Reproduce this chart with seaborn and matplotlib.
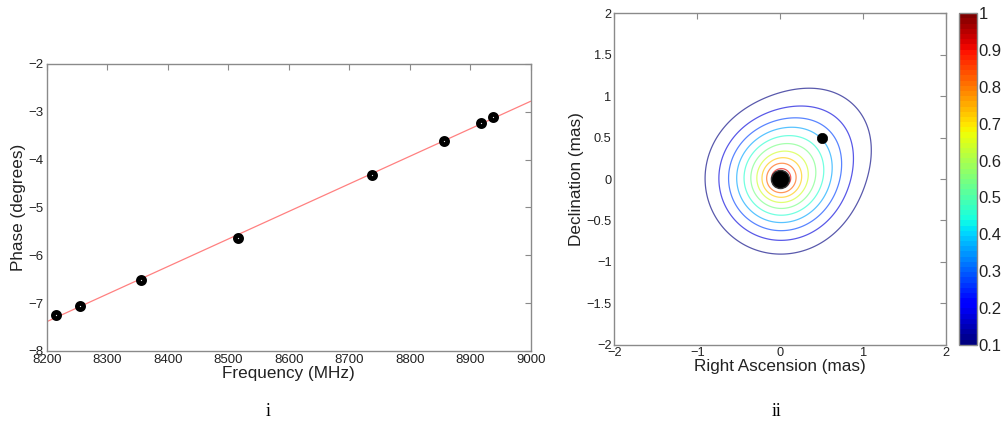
import numpy as np
import matplotlib
matplotlib.use("Agg")
import matplotlib.pyplot as plt
import matplotlib.colors as mcolors
import matplotlib.colorbar as mcolorbar
import seaborn as sns

# ---- Panel i: phase vs frequency ----
freq_mhz = [8216, 8255, 8356, 8516, 8738, 8857, 8917, 8937]
phase_deg = [-7.25, -7.05, -6.51, -5.63, -4.33, -3.60, -3.23, -3.11]
freq_ticks = [8200, 8300, 8400, 8500, 8600, 8700, 8800, 8900, 9000]
phase_ticks = [-8, -7, -6, -5, -4, -3, -2]

# ---- Panel ii: brightness model made of circular Gaussians (mas) ----
# compact core + extended core (both at the origin) + jet component
comp_ra = [0.0, 0.0, 0.5]
comp_dec = [0.0, 0.0, 0.5]
comp_flux = [0.25, 0.75, 0.16]
comp_width = [0.20, 0.63, 0.67]
n_levels = 10
ra_ticks = [-2, -1, 0, 1, 2]
ra_labels = ["\u22122", "\u22121", "0", "1", "2"]
dec_ticks = [-2, -1.5, -1, -0.5, 0, 0.5, 1, 1.5, 2]
dec_labels = ["\u22122", "\u22121.5", "\u22121", "\u22120.5", "0", "0.5", "1", "1.5", "2"]
cbar_ticks = [0.1, 0.2, 0.3, 0.4, 0.5, 0.6, 0.7, 0.8, 0.9, 1.0]
cbar_labels = ["0.1", "0.2", "0.3", "0.4", "0.5", "0.6", "0.7", "0.8", "0.9", "1"]

sns.set_style("white")
plt.rcParams["font.family"] = ["Liberation Sans", "DejaVu Sans"]

SPINE = "#8a8a8a"
TEXT = "#222222"

fig = plt.figure(figsize=(10.01, 4.33), dpi=100)


def matlab_axes(ax, size):
    for s in ax.spines.values():
        s.set_visible(True)
        s.set_color(SPINE)
        s.set_linewidth(1.0)
    ax.tick_params(direction="in", length=4, width=0.8, color=SPINE,
                   top=True, right=True, labelsize=size, labelcolor=TEXT, pad=2)


# Left panel
ax1 = fig.add_axes([0.0467, 0.1894, 0.4835, 0.6628])
fit = np.polyfit(freq_mhz, phase_deg, 1)
xfit = np.array([8200.0, 9000.0])
sns.lineplot(x=xfit, y=np.polyval(fit, xfit), ax=ax1, color="#ff6a6a",
             lw=0.9, alpha=0.85, zorder=2)
sns.scatterplot(x=freq_mhz, y=phase_deg, ax=ax1, marker="o", s=20,
                facecolor="#dddddd", edgecolor="black", linewidth=3.4, zorder=3)
ax1.set_xlim(8200, 9000)
ax1.set_ylim(-8, -2)
ax1.set_xticks(freq_ticks)
ax1.set_yticks(phase_ticks)
ax1.set_yticklabels(["\u2212%d" % abs(v) for v in phase_ticks])
ax1.set_xlabel("Frequency (MHz)", fontsize=12.3, color=TEXT, labelpad=0)
ax1.set_ylabel("Phase (degrees)", fontsize=12.3, color=TEXT, labelpad=2)
matlab_axes(ax1, 9.5)

# Right panel
ax2 = fig.add_axes([0.6137, 0.2039, 0.3317, 0.7654])
grid = np.linspace(-2, 2, 801)
RA, DEC = np.meshgrid(grid, grid)
model = np.zeros_like(RA)
for x0, y0, flux, width in zip(comp_ra, comp_dec, comp_flux, comp_width):
    model += flux * np.exp(-((RA - x0) ** 2 + (DEC - y0) ** 2) / width ** 2)
model = model / model.max()
levels = np.arange(1, n_levels + 1) / (n_levels + 1)
norm = mcolors.Normalize(vmin=0.1, vmax=1.0)
jet = plt.get_cmap("jet", 64)
ax2.contour(RA, DEC, model, levels=levels, cmap=jet, norm=norm,
            linewidths=0.9, alpha=0.65, zorder=2)
sns.scatterplot(x=comp_ra[:1], y=comp_dec[:1], ax=ax2, marker="o", s=170,
                color="black", edgecolor="#333333", linewidth=1.0, zorder=4)
sns.scatterplot(x=comp_ra[2:], y=comp_dec[2:], ax=ax2, marker="o", s=55,
                color="black", edgecolor="black", linewidth=0.5, zorder=4)
ax2.set_xlim(-2, 2)
ax2.set_ylim(-2, 2)
ax2.set_xticks(ra_ticks)
ax2.set_xticklabels(ra_labels)
ax2.set_yticks(dec_ticks)
ax2.set_yticklabels(dec_labels)
ax2.set_xlabel("Right Ascension (mas)", fontsize=12.3, color=TEXT, labelpad=0)
ax2.set_ylabel("Declination (mas)", fontsize=12.3, color=TEXT, labelpad=2)
matlab_axes(ax2, 9.2)

# Colour bar
cax = fig.add_axes([0.9584, 0.2039, 0.0174, 0.7654])
cb = mcolorbar.ColorbarBase(cax, cmap=jet, norm=norm, orientation="vertical")
cb.set_ticks(cbar_ticks)
cb.set_ticklabels(cbar_labels)
cb.outline.set_edgecolor(SPINE)
cb.outline.set_linewidth(1.0)
cax.tick_params(direction="in", length=3, width=0.8, color=SPINE,
                labelsize=12, labelcolor=TEXT, pad=1.5)

# Sub-figure captions
fig.text(0.268, 0.03, "i", fontsize=13, family=["Liberation Serif", "DejaVu Serif"],
         ha="center", va="bottom", color="black")
fig.text(0.776, 0.03, "ii", fontsize=13, family=["Liberation Serif", "DejaVu Serif"],
         ha="center", va="bottom", color="black")

fig.savefig("out.png", dpi=100)
